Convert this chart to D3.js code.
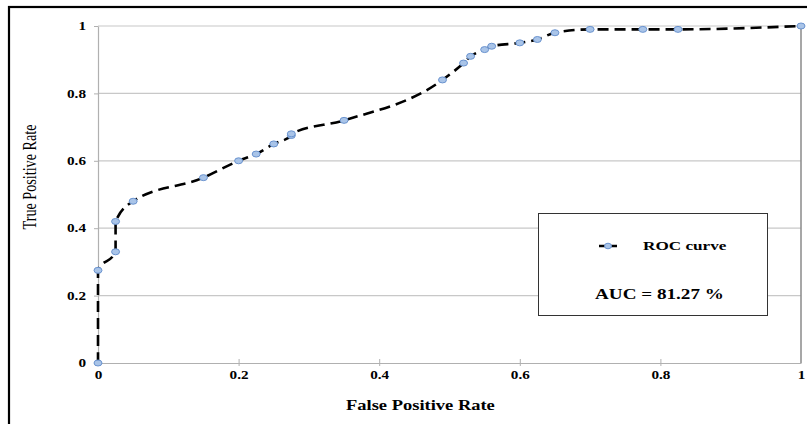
<!DOCTYPE html>
<html lang="en">
<head>
    <meta charset="UTF-8">
    <style>
        body { margin: 0; background: #fff; }
        text { font-family: "Liberation Serif", "DejaVu Serif", serif; font-weight: bold; fill: #000; }
    </style>
</head>
<body>
    <script src="https://d3js.org/d3.v7.min.js"></script>
    <div id="here"></div>

    <script>
        // ROC points
        const fpr = [0, 0, 0.025, 0.025, 0.05, 0.15, 0.2, 0.225, 0.25, 0.275, 0.275, 0.35, 0.49, 0.52, 0.53, 0.55, 0.56, 0.60, 0.625, 0.65, 0.70, 0.775, 0.825, 1];
        const tpr = [0, 0.275, 0.33, 0.42, 0.48, 0.55, 0.60, 0.62, 0.65, 0.675, 0.68, 0.72, 0.84, 0.89, 0.91, 0.93, 0.94, 0.95, 0.96, 0.98, 0.99, 0.99, 0.99, 1];
        const xTicks = [0, 0.2, 0.4, 0.6, 0.8, 1];
        const yTicks = [0, 0.2, 0.4, 0.6, 0.8, 1];
        const seriesName = "ROC curve";
        const aucLabel = "AUC = 81.27 %";

        const data = fpr.map((x, i) => ({ x, y: tpr[i] }));

        // the source picture is stretched sideways, so text gets widened too
        const STRETCH = 1.32;
        const widen = sel => sel.each(function () {
            const w = this.getComputedTextLength();
            d3.select(this).attr("textLength", w * STRETCH).attr("lengthAdjust", "spacingAndGlyphs");
        });

        const W = 807, H = 424;
        const margin = {top: 26, left: 98};
        const width = 801 - margin.left, height = 363 - margin.top;

        const root = d3.select("#here").append("svg")
            .attr("width", W).attr("height", H);

        // outer frame
        root.append("rect")
            .attr("x", 9).attr("y", 7).attr("width", 820).attr("height", 440)
            .attr("fill", "none").attr("stroke", "#000").attr("stroke-width", 2.2);

        const svg = root.append("g")
            .attr("transform", `translate(${margin.left},${margin.top})`);

        const x = d3.scaleLinear().domain([0, 1]).range([0, width]);
        const y = d3.scaleLinear().domain([0, 1]).range([height, 0]);

        // gridlines
        svg.append("g")
            .selectAll("line")
            .data(yTicks.filter(d => d > 0))
            .join("line")
            .attr("x1", 0).attr("x2", width)
            .attr("y1", d => y(d)).attr("y2", d => y(d))
            .attr("stroke", "#c8c8c8").attr("stroke-width", 1.2);

        // right edge of plot
        svg.append("line")
            .attr("x1", width).attr("x2", width).attr("y1", 0).attr("y2", height)
            .attr("stroke", "#8a8a8a").attr("stroke-width", 1.5);

        // X axis
        const xAxis = svg.append("g")
            .attr("transform", `translate(0,${height})`)
            .call(d3.axisBottom(x).tickValues(xTicks).tickFormat(d3.format("")).tickSize(0).tickPadding(8));
        xAxis.select(".domain").attr("stroke", "#b0b0b0").attr("stroke-width", 1.2);
        xAxis.selectAll(".tick text").attr("font-size", 11.5).attr("font-family", "Liberation Serif").attr("font-weight", "bold").call(widen);
        xAxis.selectAll(".tick").filter(d => d > 0 && d < 1).append("line")
            .attr("y1", -4).attr("y2", 3).attr("stroke", "#b0b0b0");

        // Y axis
        const yAxis = svg.append("g")
            .call(d3.axisLeft(y).tickValues(yTicks).tickFormat(d3.format("")).tickSize(4).tickPadding(8).tickSizeOuter(0));
        yAxis.select(".domain").attr("stroke", "#b0b0b0").attr("stroke-width", 1.2);
        yAxis.selectAll(".tick line").attr("stroke", "#b0b0b0");
        yAxis.selectAll(".tick text").attr("font-size", 11.5).attr("font-family", "Liberation Serif").attr("font-weight", "bold").call(widen);

        // axis titles
        root.append("text")
            .attr("x", 346).attr("y", 410)
            .attr("font-size", 14)
            .text("False Positive Rate")
            .call(widen);
        root.append("text")
            .attr("transform", `translate(36,177) scale(${STRETCH + 0.08},1) rotate(-90)`)
            .attr("text-anchor", "middle").attr("font-size", 13.5)
            .style("font-weight", "normal")
            .attr("textLength", 105).attr("lengthAdjust", "spacingAndGlyphs")
            .text("True Positive Rate");

        // curve
        svg.append("path")
            .datum(data)
            .attr("fill", "none").attr("stroke", "#000")
            .attr("stroke-width", 2.6).attr("stroke-dasharray", "11,6")
            .attr("d", d3.line().x(d => x(d.x)).y(d => y(d.y)).curve(d3.curveMonotoneX));

        svg.selectAll("ellipse.pt")
            .data(data)
            .join("ellipse")
            .attr("class", "pt")
            .attr("cx", d => x(d.x)).attr("cy", d => y(d.y))
            .attr("rx", 4).attr("ry", 3)
            .attr("fill", "#a9c4e8").attr("stroke", "#6a93cf").attr("stroke-width", 1);

        // legend box
        const lg = root.append("g");
        lg.append("rect")
            .attr("x", 538.5).attr("y", 213.5).attr("width", 229).attr("height", 102)
            .attr("fill", "#fff").attr("stroke", "#333").attr("stroke-width", 1);
        lg.append("line")
            .attr("x1", 599).attr("x2", 617).attr("y1", 246).attr("y2", 246)
            .attr("stroke", "#000").attr("stroke-width", 2.6).attr("stroke-dasharray", "6,6");
        lg.append("ellipse")
            .attr("cx", 608).attr("cy", 246).attr("rx", 3.5).attr("ry", 2.8)
            .attr("fill", "#a9c4e8").attr("stroke", "#6a93cf");
        lg.append("text")
            .attr("x", 643).attr("y", 250).attr("font-size", 13)
            .text(seriesName)
            .call(widen);
        lg.append("text")
            .attr("x", 595).attr("y", 299).attr("font-size", 14.5)
            .text(aucLabel)
            .call(widen);
    </script>
</body>
</html>
